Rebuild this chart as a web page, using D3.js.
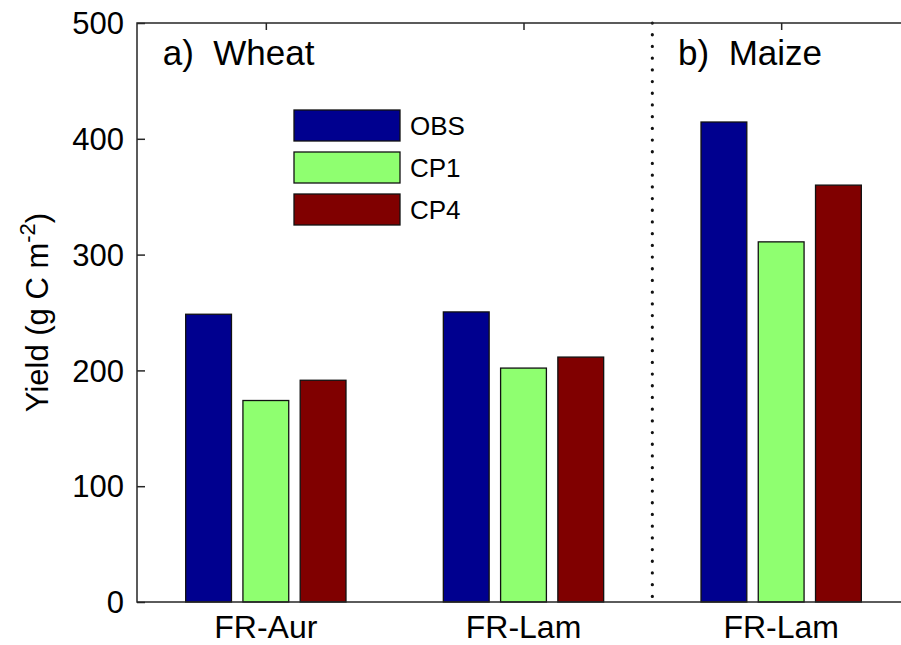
<!DOCTYPE html>
<html>
<head>
<meta charset="utf-8">
<script src="https://cdn.jsdelivr.net/npm/d3@7.9.0/dist/d3.min.js"></script>
<style>
  body { margin: 0; background: #fff; }
  svg { display: block; font-family: Arial, "Liberation Sans", sans-serif; }
</style>
</head>
<body>
<div id="chart"></div>
<script>
// data
const sites = ['FR-Aur', 'FR-Lam', 'FR-Lam'];
const series = ['OBS', 'CP1', 'CP4'];
const colors = ['#00008f', '#8fff70', '#800000'];
const obs = [248.5, 250.5, 414.5];
const cp1 = [174, 202, 311];
const cp4 = [191.5, 211.5, 360];
const yTicks = [0, 100, 200, 300, 400, 500];
const panels = ['a)  Wheat', 'b)  Maize'];

const width = 901;
const height = 645;
const margin = { top: 23, right: -9, bottom: 43, left: 137 };

const svg = d3.select('#chart')
  .append('svg')
  .attr('width', width)
  .attr('height', height);

const x = d3.scaleLinear()
  .domain([0.5, sites.length + 0.5])
  .range([margin.left, width - margin.right]);

const y = d3.scaleLinear()
  .domain([0, 500])
  .range([height - margin.bottom, margin.top]);

const step = x(2) - x(1);
const inner = d3.scaleBand()
  .domain(series)
  .range([-step / 3, step / 3])
  .paddingInner(0.2)
  .paddingOuter(0.1);

const values = [obs, cp1, cp4];
const bars = [];
sites.forEach((s, i) => {
  series.forEach((k, j) => {
    bars.push({ i: i + 1, key: k, color: colors[j], value: values[j][i] });
  });
});

svg.append('g')
  .selectAll('rect')
  .data(bars)
  .join('rect')
  .attr('x', d => x(d.i) + inner(d.key))
  .attr('width', inner.bandwidth())
  .attr('y', d => y(d.value))
  .attr('height', d => y(0) - y(d.value))
  .attr('fill', d => d.color)
  .attr('stroke', '#111')
  .attr('stroke-width', 1.3);

// dotted separator
svg.append('line')
  .attr('x1', x(2.5)).attr('x2', x(2.5))
  .attr('y1', y(500)).attr('y2', y(0))
  .attr('stroke', '#111')
  .attr('stroke-width', 3.2)
  .attr('stroke-linecap', 'round')
  .attr('stroke-dasharray', '0.1 11.6');

// frame
const frame = svg.append('g').attr('stroke', '#262626').attr('stroke-width', 1.5).attr('fill', 'none');
frame.append('rect')
  .attr('x', x.range()[0]).attr('y', y(500))
  .attr('width', x.range()[1] - x.range()[0])
  .attr('height', y(0) - y(500));

// y axis ticks (inside)
svg.append('g')
  .attr('transform', `translate(${margin.left},0)`)
  .call(d3.axisRight(y).tickValues(yTicks).tickSize(8).tickFormat(''))
  .call(g => g.select('.domain').remove())
  .call(g => g.selectAll('line').attr('stroke', '#262626').attr('stroke-width', 1.5));

svg.append('g')
  .attr('font-size', 31)
  .selectAll('text')
  .data(yTicks)
  .join('text')
  .attr('x', margin.left - 13)
  .attr('y', d => y(d))
  .attr('dy', '0.36em')
  .attr('text-anchor', 'end')
  .attr('fill', '#000')
  .text(d => d);

// x ticks top (inside)
svg.append('g')
  .attr('transform', `translate(0,${y(500)})`)
  .call(d3.axisBottom(x).tickValues([1, 2, 3]).tickSize(7).tickFormat(''))
  .call(g => g.select('.domain').remove())
  .call(g => g.selectAll('line').attr('stroke', '#262626').attr('stroke-width', 1.5));

svg.append('g')
  .attr('font-size', 32)
  .selectAll('text')
  .data(sites)
  .join('text')
  .attr('x', (d, i) => x(i + 1))
  .attr('y', y(0) + 36)
  .attr('text-anchor', 'middle')
  .attr('fill', '#000')
  .text(d => d);

// y label
const yl = svg.append('text')
  .attr('transform', `translate(48,${(y(0) + y(500)) / 2}) rotate(-90)`)
  .attr('text-anchor', 'middle')
  .attr('font-size', 31)
  .attr('fill', '#000');
yl.append('tspan').text('Yield (g C m');
yl.append('tspan').attr('font-size', 22).attr('dy', -13).text('-2');
yl.append('tspan').attr('dy', 13).text(')');

// panel titles
svg.append('g')
  .attr('font-size', 35)
  .selectAll('text')
  .data(panels)
  .join('text')
  .attr('x', (d, i) => i === 0 ? x(0.6) : x(2.6))
  .attr('y', y(500) + 42)
  .attr('fill', '#000')
  .attr('xml:space', 'preserve')
  .style('white-space', 'pre')
  .text(d => d);

// legend
const legend = svg.append('g').attr('transform', 'translate(294,110)');
const row = legend.selectAll('g')
  .data(series)
  .join('g')
  .attr('transform', (d, i) => `translate(0,${i * 42})`);
row.append('rect')
  .attr('width', 106).attr('height', 31)
  .attr('fill', (d, i) => colors[i])
  .attr('stroke', '#111').attr('stroke-width', 1.3);
row.append('text')
  .attr('x', 116).attr('y', 16).attr('dy', '0.36em')
  .attr('font-size', 26)
  .attr('fill', '#000')
  .text(d => d);
</script>
</body>
</html>
